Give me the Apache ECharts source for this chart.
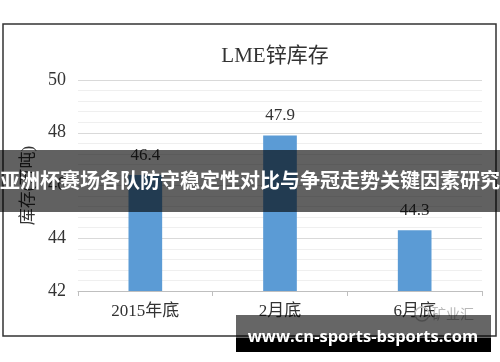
<!DOCTYPE html>
<html>
<head>
<meta charset="utf-8">
<script src="https://cdn.jsdelivr.net/npm/echarts@6/dist/echarts.min.js"></script>
<style>html,body{margin:0;padding:0;background:#fff;}#c{width:500px;height:362px;}</style>
</head>
<body>
<div id="c"></div>
<script>
const categories = ['2015年底', '2月底', '6月底'];
const values = [46.4, 47.9, 44.3];
const titleText = 'LME锌库存';
const yName = '库存(万吨)';
const bannerText = '亚洲杯赛场各队防守稳定性对比与争冠走势关键因素研究';
const siteText = 'www.cn-sports-bsports.com';
const markText = '矿业汇';

const serif = '"Liberation Serif", "Noto Sans CJK SC", serif';
const chart = echarts.init(document.getElementById('c'));
chart.setOption({
  animation: false,
  backgroundColor: '#fff',
  title: {
    text: titleText, left: 270, top: 41, textAlign: 'center',
    textStyle: { fontFamily: serif, fontSize: 21, fontWeight: 'normal', color: '#333' }
  },
  grid: { left: 78, right: 18, top: 80, bottom: 71 },
  xAxis: {
    type: 'category', data: categories,
    axisLine: { lineStyle: { color: '#bfbfbf' } },
    axisTick: { show: true, length: 5, lineStyle: { color: '#bfbfbf' } },
    axisLabel: { fontFamily: serif, fontSize: 17, color: '#333', margin: 12 }
  },
  yAxis: {
    type: 'value', min: 42, max: 50, interval: 2,
    name: yName, nameLocation: 'middle', nameRotate: 90, nameGap: 39,
    nameTextStyle: { fontFamily: serif, fontSize: 17, color: '#333' },
    axisLine: { show: false }, axisTick: { show: false },
    axisLabel: { fontFamily: serif, fontSize: 18, color: '#333', margin: 12 },
    splitLine: { lineStyle: { color: '#d9d9d9' } },
    minorTick: { show: false, splitNumber: 5 },
    minorSplitLine: { show: true, lineStyle: { color: '#efefef' } }
  },
  series: [{
    type: 'bar', data: values, barWidth: '25%',
    itemStyle: { color: '#5b9bd5' },
    label: { show: true, position: 'top', distance: 11, fontFamily: serif, fontSize: 17, color: '#333' }
  }],
  graphic: [
    { type: 'rect', z: 50, shape: { x: 3, y: 24, width: 493, height: 312 },
      style: { fill: 'none', stroke: '#333', lineWidth: 1.5 } },
    { type: 'circle', z: 50, shape: { cx: 422, cy: 314, r: 7 },
      style: { fill: 'none', stroke: '#c0c0c0', lineWidth: 1.5 } },
    { type: 'text', z: 50, x: 453, y: 314,
      style: { text: markText, fill: '#b8b8b8', fontSize: 14, fontFamily: '"Noto Sans CJK SC"', align: 'center', verticalAlign: 'middle' } },
    { type: 'rect', z: 100, shape: { x: 0, y: 150, width: 500, height: 62 },
      style: { fill: 'rgba(0,0,0,0.62)' } },
    { type: 'text', z: 101, x: 250, y: 180,
      style: { text: bannerText, fill: '#fff', fontSize: 20, fontWeight: 'bold', fontFamily: '"Noto Sans CJK SC"', align: 'center', verticalAlign: 'middle' } },
    { type: 'rect', z: 100, shape: { x: 236, y: 315, width: 255, height: 23 },
      style: { fill: 'rgba(0,0,0,0.6)' } },
    { type: 'rect', z: 100, shape: { x: 236, y: 338, width: 255, height: 14 },
      style: { fill: '#000' } },
    { type: 'text', z: 101, x: 363, y: 337,
      style: { text: siteText, fill: '#fff', fontSize: 16.5, fontWeight: 'bold', fontFamily: '"Open Sans", "Noto Sans"', align: 'center', verticalAlign: 'middle' } }
  ]
});
</script>
</body>
</html>
